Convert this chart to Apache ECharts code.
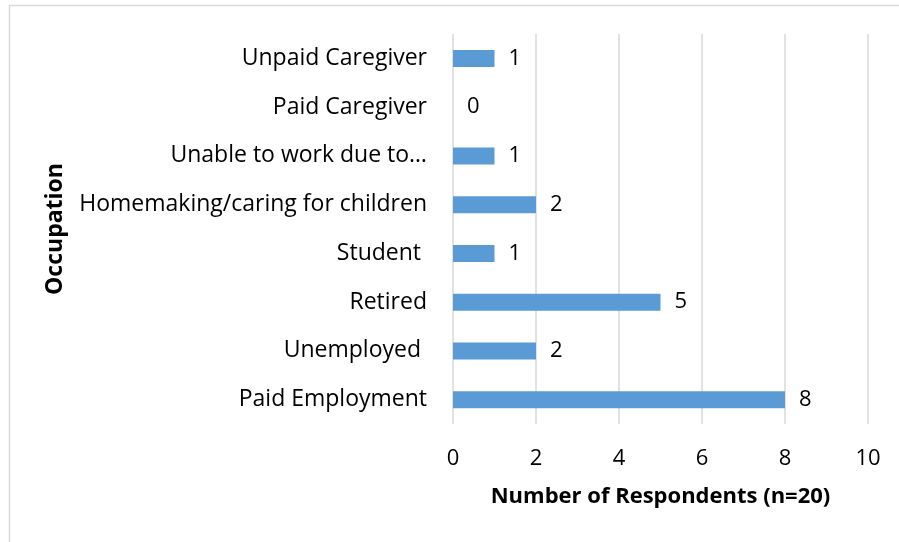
<!DOCTYPE html>
<html><head><meta charset="utf-8">
<script src="https://cdn.jsdelivr.net/npm/echarts@6/dist/echarts.min.js"></script>
<style>html,body{margin:0;padding:0;background:#fff}#c{width:899px;height:542px}</style>
</head><body><div id="c"></div>
<script>
const categories = ["Paid Employment","Unemployed ","Retired","Student ","Homemaking/caring for children","Unable to work due to…","Paid Caregiver","Unpaid Caregiver"];
const values = [8,2,5,1,2,1,0,1];
const xTicks = [0,2,4,6,8,10];
const xTitle = "Number of Respondents (n=20)";
const yTitle = "Occupation";
const FONT = "Open Sans";
const chart = echarts.init(document.getElementById('c'));
chart.setOption({
  animation:false,
  graphic:[{type:'rect',shape:{x:9.5,y:5.5,width:1000,height:1000},style:{fill:'none',stroke:'#d9d9d9',lineWidth:1.5},silent:true}],
  grid:{left:453,right:31,top:34,bottom:118,containLabel:false},
  xAxis:{type:'value',min:xTicks[0],max:xTicks[xTicks.length-1],interval:xTicks[1]-xTicks[0],
    axisLine:{show:false},axisTick:{show:false},
    splitLine:{lineStyle:{color:'#d9d9d9',width:1.5}},
    axisLabel:{fontFamily:FONT,fontSize:22,color:'#000',margin:24},
    name:xTitle,nameLocation:'middle',nameGap:62,
    nameTextStyle:{fontFamily:FONT,fontSize:22,fontWeight:'bold',color:'#000'}},
  yAxis:{type:'category',data:categories,
    axisLine:{show:false},axisTick:{show:false},
    axisLabel:{fontFamily:FONT,fontSize:23,color:'#000',margin:26},
    name:yTitle,nameLocation:'middle',nameGap:386,nameRotate:90,
    nameTextStyle:{fontFamily:FONT,fontSize:23,fontWeight:'bold',color:'#000'}},
  series:[{type:'bar',data:values,barWidth:17,
    itemStyle:{color:'#5b9bd5'},
    label:{show:true,position:'right',distance:14,fontFamily:FONT,fontSize:22,color:'#000'}}]
});
</script></body></html>
